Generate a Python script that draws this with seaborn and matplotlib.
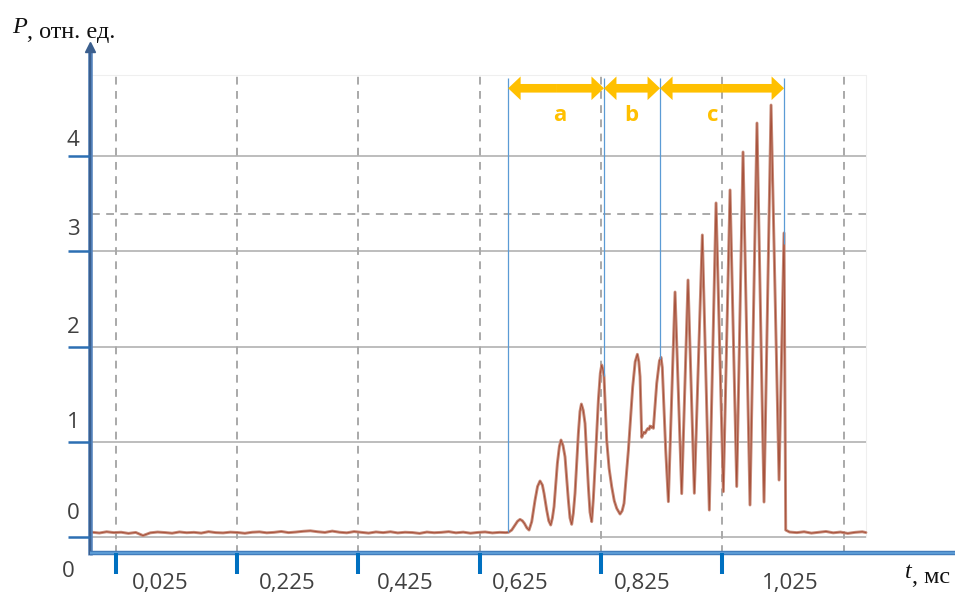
import numpy as np
import pandas as pd
import matplotlib
matplotlib.use("Agg")
import matplotlib.pyplot as plt
import seaborn as sns
from matplotlib.patches import FancyArrowPatch

# ---------------------------------------------------------------- data
# quiet baseline before the burst (t in ms, P in rel. units)
base_left_t = [-0.014, -0.002, 0.010, 0.022, 0.034, 0.046, 0.058, 0.070, 0.082, 0.094,
               0.106, 0.118, 0.130, 0.142, 0.154, 0.166, 0.178, 0.190, 0.202, 0.214,
               0.226, 0.238, 0.250, 0.262, 0.274, 0.286, 0.298, 0.310, 0.322, 0.334,
               0.346, 0.358, 0.370, 0.382, 0.394, 0.406, 0.418, 0.430, 0.442, 0.454,
               0.466, 0.478, 0.490, 0.502, 0.514, 0.526, 0.538, 0.550, 0.562, 0.574,
               0.586, 0.598, 0.610, 0.622, 0.634, 0.646, 0.658, 0.668]
base_left_p = [0.050, 0.042, 0.055, 0.046, 0.050, 0.038, 0.048, 0.015, 0.044, 0.052,
               0.047, 0.040, 0.053, 0.045, 0.049, 0.041, 0.056, 0.046, 0.043, 0.051,
               0.047, 0.039, 0.050, 0.054, 0.044, 0.049, 0.058, 0.046, 0.052, 0.060,
               0.065, 0.055, 0.048, 0.062, 0.050, 0.044, 0.057, 0.049, 0.041, 0.053,
               0.046, 0.055, 0.043, 0.050, 0.047, 0.038, 0.052, 0.045, 0.049, 0.056,
               0.044, 0.051, 0.040, 0.048, 0.053, 0.043, 0.049, 0.046]

# the burst: regions a, b and c
burst_t = [0.6724, 0.6779, 0.6834, 0.6875, 0.6916, 0.6955, 0.6988, 0.7030, 0.7065, 0.7109,
           0.7164, 0.7205, 0.7246, 0.7285, 0.7312, 0.7356, 0.7390, 0.7422, 0.7450, 0.7477,
           0.7532, 0.7565, 0.7592, 0.7625, 0.7658, 0.7713, 0.7740, 0.7768, 0.7795, 0.7823,
           0.7878, 0.7905, 0.7928, 0.7958, 0.7988, 0.8043, 0.8070, 0.8098, 0.8125, 0.8153,
           0.8208, 0.8240, 0.8263, 0.8290, 0.8301, 0.8345, 0.8385, 0.8428, 0.8470, 0.8510,
           0.8565, 0.8600, 0.8631, 0.8703, 0.8774, 0.8815, 0.8851, 0.8875, 0.8895, 0.8923,
           0.8940, 0.8960, 0.8980, 0.9005, 0.9025, 0.9045, 0.9060, 0.9080, 0.9100, 0.9115,
           0.9170, 0.9215, 0.9241, 0.9262, 0.9280, 0.9318, 0.9362,
           0.9472, 0.9582, 0.9686, 0.9790, 0.9922, 1.0037, 1.0148, 1.0268, 1.0379, 1.0489,
           1.0593, 1.0708, 1.0823, 1.0939, 1.1055, 1.1187, 1.1269, 1.1297]
burst_p = [0.049, 0.073, 0.126, 0.165, 0.185, 0.170, 0.143, 0.095, 0.073, 0.161,
           0.388, 0.530, 0.588, 0.545, 0.458, 0.283, 0.170, 0.126, 0.200, 0.318,
           0.773, 0.950, 1.018, 0.960, 0.843, 0.388, 0.200, 0.133, 0.250, 0.458,
           1.088, 1.320, 1.396, 1.330, 1.193, 0.528, 0.260, 0.161, 0.400, 0.738,
           1.438, 1.720, 1.806, 1.740, 1.683, 1.018, 0.720, 0.528, 0.380, 0.301,
           0.241, 0.275, 0.353, 0.913, 1.578, 1.840, 1.918, 1.840, 1.683, 1.046,
           1.075, 1.100, 1.090, 1.123, 1.140, 1.130, 1.165, 1.150, 1.160, 1.141,
           1.613, 1.850, 1.886, 1.780, 1.508, 0.913, 0.371,
           2.572, 0.455, 2.698, 0.459, 3.171, 0.283, 3.507, 0.476, 3.643, 0.530,
           4.042, 0.336, 4.346, 0.367, 4.535, 0.598, 3.192, 0.073]

# quiet baseline after the burst
base_right_t = [1.136, 1.148, 1.160, 1.172, 1.184, 1.196, 1.208, 1.220, 1.232, 1.244, 1.256, 1.262]
base_right_p = [0.052, 0.046, 0.055, 0.041, 0.050, 0.058, 0.044, 0.052, 0.038, 0.049, 0.055, 0.047]

# time-axis ticks, labels and P levels
tick_t = [0.025, 0.225, 0.425, 0.625, 0.825, 1.025]
tick_labels = ["0,025", "0,225", "0,425", "0,625", "0,825", "1,025"]
grid_t = [0.025, 0.225, 0.425, 0.625, 0.825, 1.025, 1.225]
p_levels = [0, 1, 2, 3, 4]
p_ref = 3.39

# region boundaries and names
region_edges = [0.672, 0.830, 0.9225, 1.127]
region_names = ["a", "b", "c"]

# ---------------------------------------------------------------- layout
label_t = [0.099, 0.307, 0.502, 0.692, 0.893, 1.137]   # tick-label centres
p_label_y = [0.25, 1.20, 2.20, 3.23, 4.16]             # P-label centres
T_LEFT, T_RIGHT, P_TOP = -0.014, 1.262, 4.85
AXIS_T, AXIS_P = -0.0174, -0.168

sns.set_theme(style="white")
plt.rcParams["font.family"] = ["Open Sans", "DejaVu Sans"]

fig = plt.figure(figsize=(9.55, 5.92), dpi=100)
ax = fig.add_axes([0, 0, 1, 1])
ax.set_xlim(-0.1658, 1.4088)
ax.set_ylim(-0.5774, 5.6378)
ax.axis("off")

# faint plot-area frame
ax.plot([T_LEFT, T_RIGHT], [P_TOP, P_TOP], color="#efefef", lw=0.8, zorder=1)
ax.plot([T_RIGHT, T_RIGHT], [0, P_TOP], color="#efefef", lw=0.8, zorder=1)

# grid
ax.hlines(p_levels, T_LEFT, T_RIGHT, color="#bdbdbd", lw=1.4, zorder=1)
ax.hlines(p_ref, T_LEFT, T_RIGHT, color="#a9a9a9", lw=1.4, linestyles=(0, (4, 3.3)), zorder=1)
ax.vlines(grid_t, AXIS_P, P_TOP, color="#a9a9a9", lw=1.4, linestyles=(0, (4, 3.3)), zorder=1)

# signal
t_all = base_left_t + burst_t + base_right_t
p_all = base_left_p + burst_p + base_right_p
df = pd.DataFrame({"t": t_all, "P": p_all})
sns.lineplot(data=df, x="t", y="P", sort=False, estimator=None,
             color="#c68a78", lw=2.1, ax=ax, zorder=3)
sns.lineplot(data=df, x="t", y="P", sort=False, estimator=None,
             color="#a34a33", lw=0.6, ax=ax, zorder=4)
ax.axis("off")

# region boundaries
for e in region_edges:
    ax.vlines(e, np.interp(e, t_all, p_all), 4.82, color="#5b9bd5", lw=0.9, zorder=5)

# double arrows with region names
ARROW_P = 4.711
style = "simple,head_length=9.0,head_width=17.0,tail_width=6.2"
for (l, r), name in zip(zip(region_edges[:-1], region_edges[1:]), region_names):
    m = (l + r) / 2
    for end in (l, r):
        ax.add_patch(FancyArrowPatch((m, ARROW_P), (end, ARROW_P), arrowstyle=style,
                                     mutation_scale=1, color="#ffc000", lw=0,
                                     shrinkA=0, shrinkB=0, zorder=6))
name_t = [0.7576, 0.8746, 1.010]
for x, name in zip(name_t, region_names):
    ax.text(x, 4.367, name, color="#ffc000", fontsize=16, fontweight="bold",
            ha="center", va="baseline", zorder=6)

# axes lines
ax.plot([AXIS_T, AXIS_T], [-0.19, 5.12], color="#5584bd", lw=3.3, solid_capstyle="butt", zorder=7)
ax.plot([AXIS_T, AXIS_T], [-0.19, 5.12], color="#3b5f8e", lw=1.6, solid_capstyle="butt", zorder=7)
ax.plot([AXIS_T], [5.14], marker="^", ms=7, color="#3b5f8e", zorder=7)
ax.plot([AXIS_T, 1.4088], [AXIS_P, AXIS_P], color="#3f7ab9", lw=3.2, solid_capstyle="butt", zorder=7)
ax.plot([AXIS_T, 1.4088], [AXIS_P, AXIS_P], color="#5b9bd5", lw=1.6, solid_capstyle="butt", zorder=7)

# ticks
ax.vlines(tick_t, -0.388, AXIS_P, color="#0070c0", lw=2.9, zorder=7)
ax.hlines(p_levels, -0.0537, AXIS_T, color="#2c6fb3", lw=1.8, zorder=7)

# tick labels
for x, s in zip(label_t, tick_labels):
    ax.text(x, -0.483, s, fontsize=16, color="#404040", ha="center", va="center")
for p, y in zip(p_levels, p_label_y):
    ax.text(-0.0454, y, str(p), fontsize=16, color="#404040", ha="center", va="center")
ax.text(-0.0537, -0.367, "0", fontsize=16, color="#404040", ha="center", va="center")

# axis titles
serif = ["Liberation Serif", "DejaVu Serif"]
pt = ax.text(-0.146, 5.291, "P", fontsize=17.5, family=serif, style="italic",
             color="#111111", ha="left", va="baseline")
ax.annotate(", отн. ед.", xy=(1, 0), xycoords=pt, fontsize=17.5, family=serif,
            color="#111111", ha="left", va="baseline")
tt = ax.text(1.3264, -0.430, "t", fontsize=17.5, family=serif, style="italic",
             color="#111111", ha="left", va="baseline")
ax.annotate(", мс", xy=(1, 0), xycoords=tt, fontsize=17.5, family=serif,
            color="#111111", ha="left", va="baseline")

fig.savefig("out.png", dpi=100)
